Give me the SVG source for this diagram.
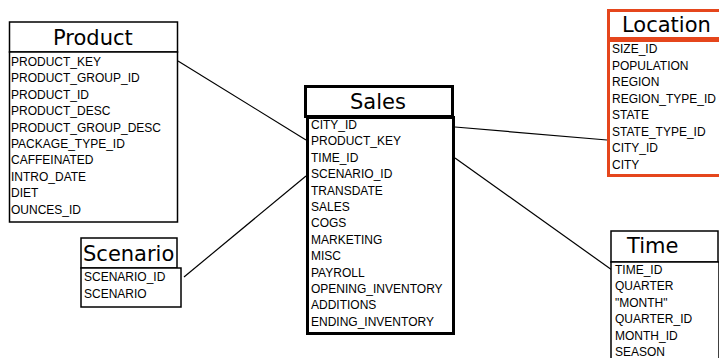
<svg xmlns="http://www.w3.org/2000/svg" width="719" height="358" viewBox="0 0 719 358">
<style>
.bg{fill:#fff}
.box{fill:#fff;stroke:#000;stroke-width:1.5}
.thick{fill:#fff;stroke:#000;stroke-width:3}
.orange{fill:#fff;stroke:#e5461c;stroke-width:3}
.hdr{font-family:"DejaVu Sans",Verdana,sans-serif;font-size:21px;fill:#000}
.fld{font-family:"Liberation Sans",Arial,sans-serif;font-size:12px;fill:#000}
.conn line{stroke:#000;stroke-width:1.2}
</style>
<rect class="bg" x="0" y="0" width="719" height="358"/>
<g id="connectors" class="conn">
<line x1="178" y1="61" x2="306" y2="140"/>
<line x1="184" y1="277" x2="306" y2="176"/>
<line x1="455" y1="127" x2="607" y2="140"/>
<line x1="455" y1="158" x2="612" y2="270"/>
</g>
<g id="product">
<rect class="box" x="9.5" y="22" width="168" height="30"/>
<text class="hdr" x="53" y="45">Product</text>
<rect class="box" x="9.5" y="52" width="168" height="170"/>
<text class="fld" x="11" y="66">PRODUCT_KEY</text>
<text class="fld" x="11" y="82.4">PRODUCT_GROUP_ID</text>
<text class="fld" x="11" y="98.8">PRODUCT_ID</text>
<text class="fld" x="11" y="115.2">PRODUCT_DESC</text>
<text class="fld" x="11" y="131.6">PRODUCT_GROUP_DESC</text>
<text class="fld" x="11" y="148">PACKAGE_TYPE_ID</text>
<text class="fld" x="11" y="164.4">CAFFEINATED</text>
<text class="fld" x="11" y="180.8">INTRO_DATE</text>
<text class="fld" x="11" y="197.2">DIET</text>
<text class="fld" x="11" y="213.6">OUNCES_ID</text>
</g>
<g id="sales">
<rect class="thick" x="305.5" y="86.5" width="147" height="30"/>
<text class="hdr" x="350" y="109">Sales</text>
<rect class="thick" x="307.5" y="117.5" width="146" height="216"/>
<text class="fld" x="311" y="129">CITY_ID</text>
<text class="fld" x="311" y="145.4">PRODUCT_KEY</text>
<text class="fld" x="311" y="161.8">TIME_ID</text>
<text class="fld" x="311" y="178.2">SCENARIO_ID</text>
<text class="fld" x="311" y="194.6">TRANSDATE</text>
<text class="fld" x="311" y="211">SALES</text>
<text class="fld" x="311" y="227.4">COGS</text>
<text class="fld" x="311" y="243.8">MARKETING</text>
<text class="fld" x="311" y="260.2">MISC</text>
<text class="fld" x="311" y="276.6">PAYROLL</text>
<text class="fld" x="311" y="293">OPENING_INVENTORY</text>
<text class="fld" x="311" y="309.4">ADDITIONS</text>
<text class="fld" x="311" y="325.8">ENDING_INVENTORY</text>
</g>
<g id="location">
<rect class="orange" x="608.5" y="10.5" width="112" height="28"/>
<text class="hdr" x="622" y="32">Location</text>
<rect class="orange" x="608.5" y="40.5" width="112" height="135"/>
<text class="fld" x="612" y="53">SIZE_ID</text>
<text class="fld" x="612" y="69.5">POPULATION</text>
<text class="fld" x="612" y="86">REGION</text>
<text class="fld" x="612" y="102.5">REGION_TYPE_ID</text>
<text class="fld" x="612" y="119">STATE</text>
<text class="fld" x="612" y="135.5">STATE_TYPE_ID</text>
<text class="fld" x="612" y="152">CITY_ID</text>
<text class="fld" x="612" y="168.5">CITY</text>
</g>
<g id="time">
<rect class="box" x="611" y="231" width="107" height="31"/>
<text class="hdr" x="627" y="253">Time</text>
<rect class="box" x="611" y="262" width="108" height="110"/>
<text class="fld" x="615" y="274">TIME_ID</text>
<text class="fld" x="615" y="290.4">QUARTER</text>
<text class="fld" x="615" y="306.8">"MONTH"</text>
<text class="fld" x="615" y="323.2">QUARTER_ID</text>
<text class="fld" x="615" y="339.6">MONTH_ID</text>
<text class="fld" x="615" y="356">SEASON</text>
</g>
<g id="scenario">
<rect class="box" x="81" y="238" width="96" height="30"/>
<text class="hdr" x="83" y="261">Scenario</text>
<rect class="box" x="81" y="268" width="100" height="39"/>
<text class="fld" x="84" y="281">SCENARIO_ID</text>
<text class="fld" x="84" y="298">SCENARIO</text>
</g>
</svg>
